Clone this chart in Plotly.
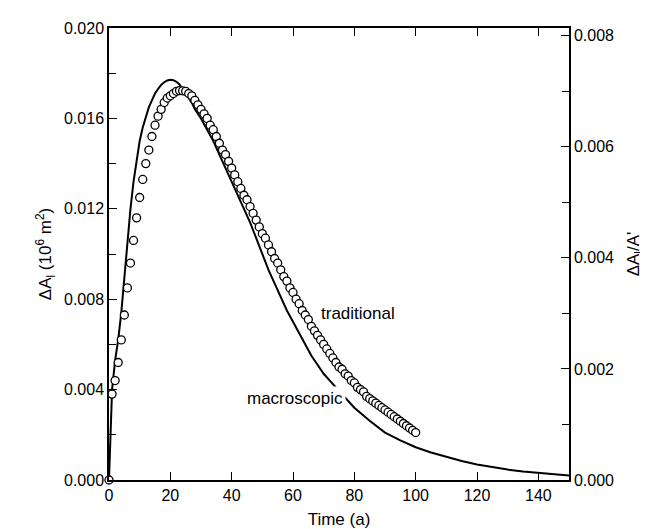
import plotly.graph_objects as go

# Traditional model (open circles), yearly values
trad_t = list(range(0, 101))
trad_v = [
    0.0, 0.0038, 0.0044, 0.0052, 0.0062, 0.0073, 0.0085, 0.0096, 0.0106, 0.0116,
    0.0125, 0.0133, 0.0140, 0.0146, 0.0152, 0.0157, 0.0161, 0.0164, 0.0167, 0.0169,
    0.0170, 0.0171, 0.0172, 0.01723, 0.01722, 0.0172, 0.0171, 0.0170, 0.0168, 0.0166,
    0.0164, 0.0162, 0.0160, 0.0157, 0.0155, 0.0152, 0.0149, 0.0146, 0.0144, 0.0141,
    0.0138, 0.0135, 0.0132, 0.0129, 0.0126, 0.0124, 0.0121, 0.0118, 0.0115, 0.0112,
    0.0109, 0.0107, 0.0104, 0.0101, 0.0098, 0.0096, 0.0093, 0.0090, 0.0088, 0.0085,
    0.0083, 0.0080, 0.0078, 0.0075, 0.0073, 0.0071, 0.0068, 0.0066, 0.0064, 0.0062,
    0.0060, 0.0058, 0.0056, 0.0054, 0.0052, 0.0050, 0.0049, 0.0047, 0.0046, 0.0044,
    0.0043, 0.0041, 0.0040, 0.0039, 0.0037, 0.0036, 0.0035, 0.0034, 0.0033, 0.0032,
    0.0031, 0.0030, 0.0029, 0.0028, 0.0027, 0.0026, 0.0025, 0.0024, 0.0023, 0.0022,
    0.0021,
]

# Macroscopic model (solid line)
macro_t = [0, 0.5, 1, 2, 3, 4, 5, 6, 7, 8, 9, 10, 11, 12, 13, 14, 15, 16, 17, 18, 19,
           20, 21, 22, 23, 24, 25, 26, 27, 28, 29, 30, 32, 34, 36, 38, 40, 42, 44, 46,
           48, 50, 52, 54, 56, 58, 60, 62, 64, 66, 68, 70, 72, 74, 76, 78, 80, 85, 90,
           95, 100, 105, 110, 115, 120, 125, 130, 135, 140, 145, 150]
macro_v = [0.0, 0.0025, 0.0040, 0.0053, 0.0062, 0.0074, 0.0090, 0.0106, 0.0120, 0.0132,
           0.0142, 0.0150, 0.0156, 0.0161, 0.0165, 0.0168, 0.0171, 0.0173, 0.01748, 0.0176,
           0.01768, 0.01771, 0.01769, 0.01762, 0.0175, 0.0173, 0.0171, 0.0169, 0.0167, 0.0164,
           0.0162, 0.0160, 0.0155, 0.0150, 0.0144, 0.0138, 0.0132, 0.0126, 0.0120, 0.0114,
           0.0107, 0.0100, 0.0093, 0.0087, 0.0081, 0.0075, 0.0070, 0.0065, 0.0060, 0.0055,
           0.0051, 0.0047, 0.0044, 0.0041, 0.0038, 0.0035, 0.0032, 0.00262, 0.0021,
           0.00175, 0.00145, 0.00122, 0.00102, 0.00084, 0.00069, 0.00056, 0.00046, 0.00038,
           0.00031, 0.00025, 0.00020]

x_ticks = [0, 20, 40, 60, 80, 100, 120, 140]
y_left_ticks = [0.000, 0.004, 0.008, 0.012, 0.016, 0.020]
y_right_ticks = [0.000, 0.002, 0.004, 0.006, 0.008]

FONT = "Liberation Sans, Arial, sans-serif"

fig = go.Figure()
fig.add_trace(go.Scatter(x=macro_t, y=macro_v, mode="lines",
                         line=dict(color="black", width=2), showlegend=False,
                         hoverinfo="skip"))
fig.add_trace(go.Scatter(x=trad_t, y=trad_v, mode="markers",
                         marker=dict(symbol="circle", size=8, color="white",
                                     line=dict(color="black", width=1.3)),
                         cliponaxis=False, showlegend=False))
# invisible anchor for right axis
fig.add_trace(go.Scatter(x=[0], y=[0], yaxis="y2", mode="markers",
                         marker=dict(opacity=0), showlegend=False, hoverinfo="skip"))

fig.add_annotation(x=68, y=0.00735, text="traditional", showarrow=False,
                   xanchor="left", yanchor="middle", bgcolor="white", borderpad=2,
                   font=dict(family=FONT, size=17, color="black"))
fig.add_annotation(x=77.3, y=0.0036, text="macroscopic", showarrow=False,
                   xanchor="right", yanchor="middle", bgcolor="white", borderpad=2,
                   font=dict(family=FONT, size=17, color="black"))

axis_common = dict(showline=True, linecolor="black", linewidth=1.5, showgrid=False,
                   zeroline=False, ticks="inside", tickcolor="black", tickwidth=1.3,
                   ticklen=8, tickfont=dict(family=FONT, size=16, color="black"))

fig.update_layout(
    width=648, height=529,
    margin=dict(l=101, r=87, t=20, b=57),
    paper_bgcolor="white", plot_bgcolor="white",
    font=dict(family=FONT, color="black"),
    xaxis=dict(range=[0, 150], tickvals=x_ticks, mirror="ticks",
               title=dict(text="Time (a)", font=dict(family=FONT, size=17), standoff=10),
               **axis_common),
    yaxis=dict(range=[0, 0.020], tickvals=y_left_ticks, tickformat=".3f", mirror=True,
               minor=dict(dtick=0.002, ticks="inside", ticklen=7, tickcolor="black", tickwidth=1.2),
               title=dict(text="ΔA<sub>l</sub> (10<sup>6</sup> m<sup>2</sup>)",
                          font=dict(family=FONT, size=17), standoff=8),
               **axis_common),
    yaxis2=dict(range=[0, 0.00814], tickvals=y_right_ticks, tickformat=".3f",
                overlaying="y", side="right",
                minor=dict(dtick=0.001, ticks="inside", ticklen=7, tickcolor="black", tickwidth=1.2),
                title=dict(text="ΔA<sub>l</sub>/A'", font=dict(family=FONT, size=17), standoff=14),
                **axis_common),
)

fig.write_html("out.html")
